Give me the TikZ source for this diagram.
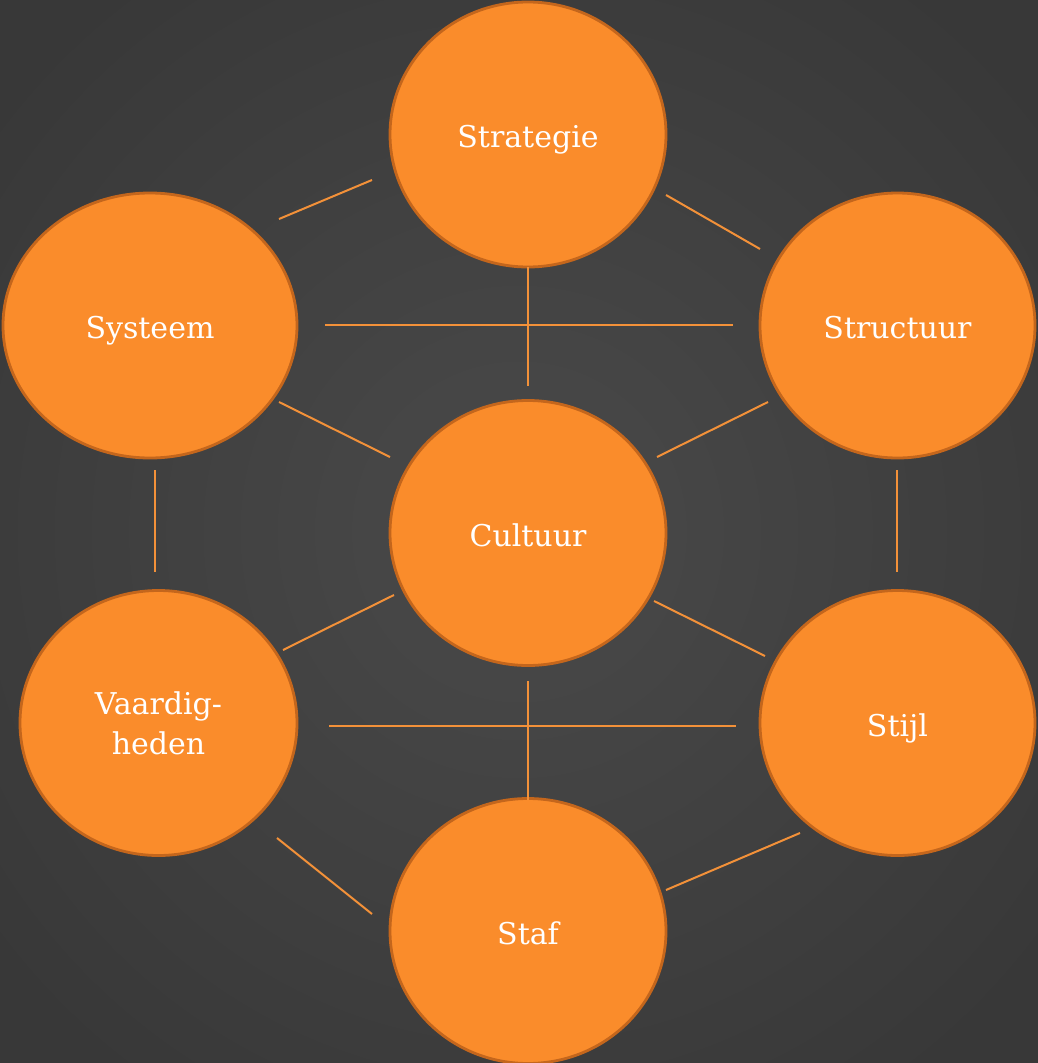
\documentclass[tikz,border=0pt]{standalone}
\usepackage{fontspec}
\setmainfont{DejaVu Serif}
\usetikzlibrary{shapes.geometric}
\definecolor{bgin}{HTML}{4A4A4A}
\definecolor{bgout}{HTML}{383838}
\definecolor{orfill}{HTML}{FA8C2B}
\definecolor{orline}{HTML}{C4661C}
\definecolor{conn}{HTML}{F39139}
\tikzset{
  bubble/.style={ellipse, draw=orline, line width=2.8pt, fill=orfill,
    minimum width=#1, minimum height=265pt, inner sep=0pt,
    text=white, font=\fontsize{30}{40}\selectfont, align=center},
  bubble/.default=276pt,
  link/.style={draw=conn, line width=2pt}
}
\newcommand{\dn}[1]{\raisebox{-13pt}[0pt][0pt]{#1}}
\begin{document}
\begin{tikzpicture}[x=1pt,y=-1pt]
\useasboundingbox (0,0) rectangle (1038,1063);
\shade[inner color=bgin, outer color=bgout] (-150,-150) rectangle (1188,1213);
% nodes
\node[bubble] (strat) at (528,134.5) {\dn{Strategie}};
\node[bubble=294pt] (syst) at (150,325.5) {\dn{Systeem}};
\node[bubble=275pt] (struc) at (897.5,325.5) {\dn{Structuur}};
\node[bubble] (cult) at (528,533) {\dn{Cultuur}};
\node[bubble=277pt] (vaard) at (158.5,723) {Vaardig-\\heden};
\node[bubble=275pt] (stijl) at (897.5,723) {\dn{Stijl}};
\node[bubble] (staf) at (528,931) {\dn{Staf}};
% connector end points
\coordinate (a1) at (279,219);  \coordinate (a2) at (372,180);
\coordinate (b1) at (666,195);  \coordinate (b2) at (760,249);
\coordinate (c1) at (325,325);  \coordinate (c2) at (733,325);
\coordinate (d1) at (528,267);  \coordinate (d2) at (528,386);
\coordinate (e1) at (279,402);  \coordinate (e2) at (390,457);
\coordinate (f1) at (768,402);  \coordinate (f2) at (657,457);
\coordinate (g1) at (155,470);  \coordinate (g2) at (155,572);
\coordinate (h1) at (897,470);  \coordinate (h2) at (897,572);
\coordinate (i1) at (394,595);  \coordinate (i2) at (283,650);
\coordinate (j1) at (654,601);  \coordinate (j2) at (765,656);
\coordinate (k1) at (329,726);  \coordinate (k2) at (736,726);
\coordinate (l1) at (528,681);  \coordinate (l2) at (528,800);
\coordinate (m1) at (277,838);  \coordinate (m2) at (372,914);
\coordinate (n1) at (800,833);  \coordinate (n2) at (666,890);
\foreach \p in {a,b,c,d,e,f,g,h,i,j,k,l,m,n}
  \draw[link] (\p1) -- (\p2);
\end{tikzpicture}
\end{document}
